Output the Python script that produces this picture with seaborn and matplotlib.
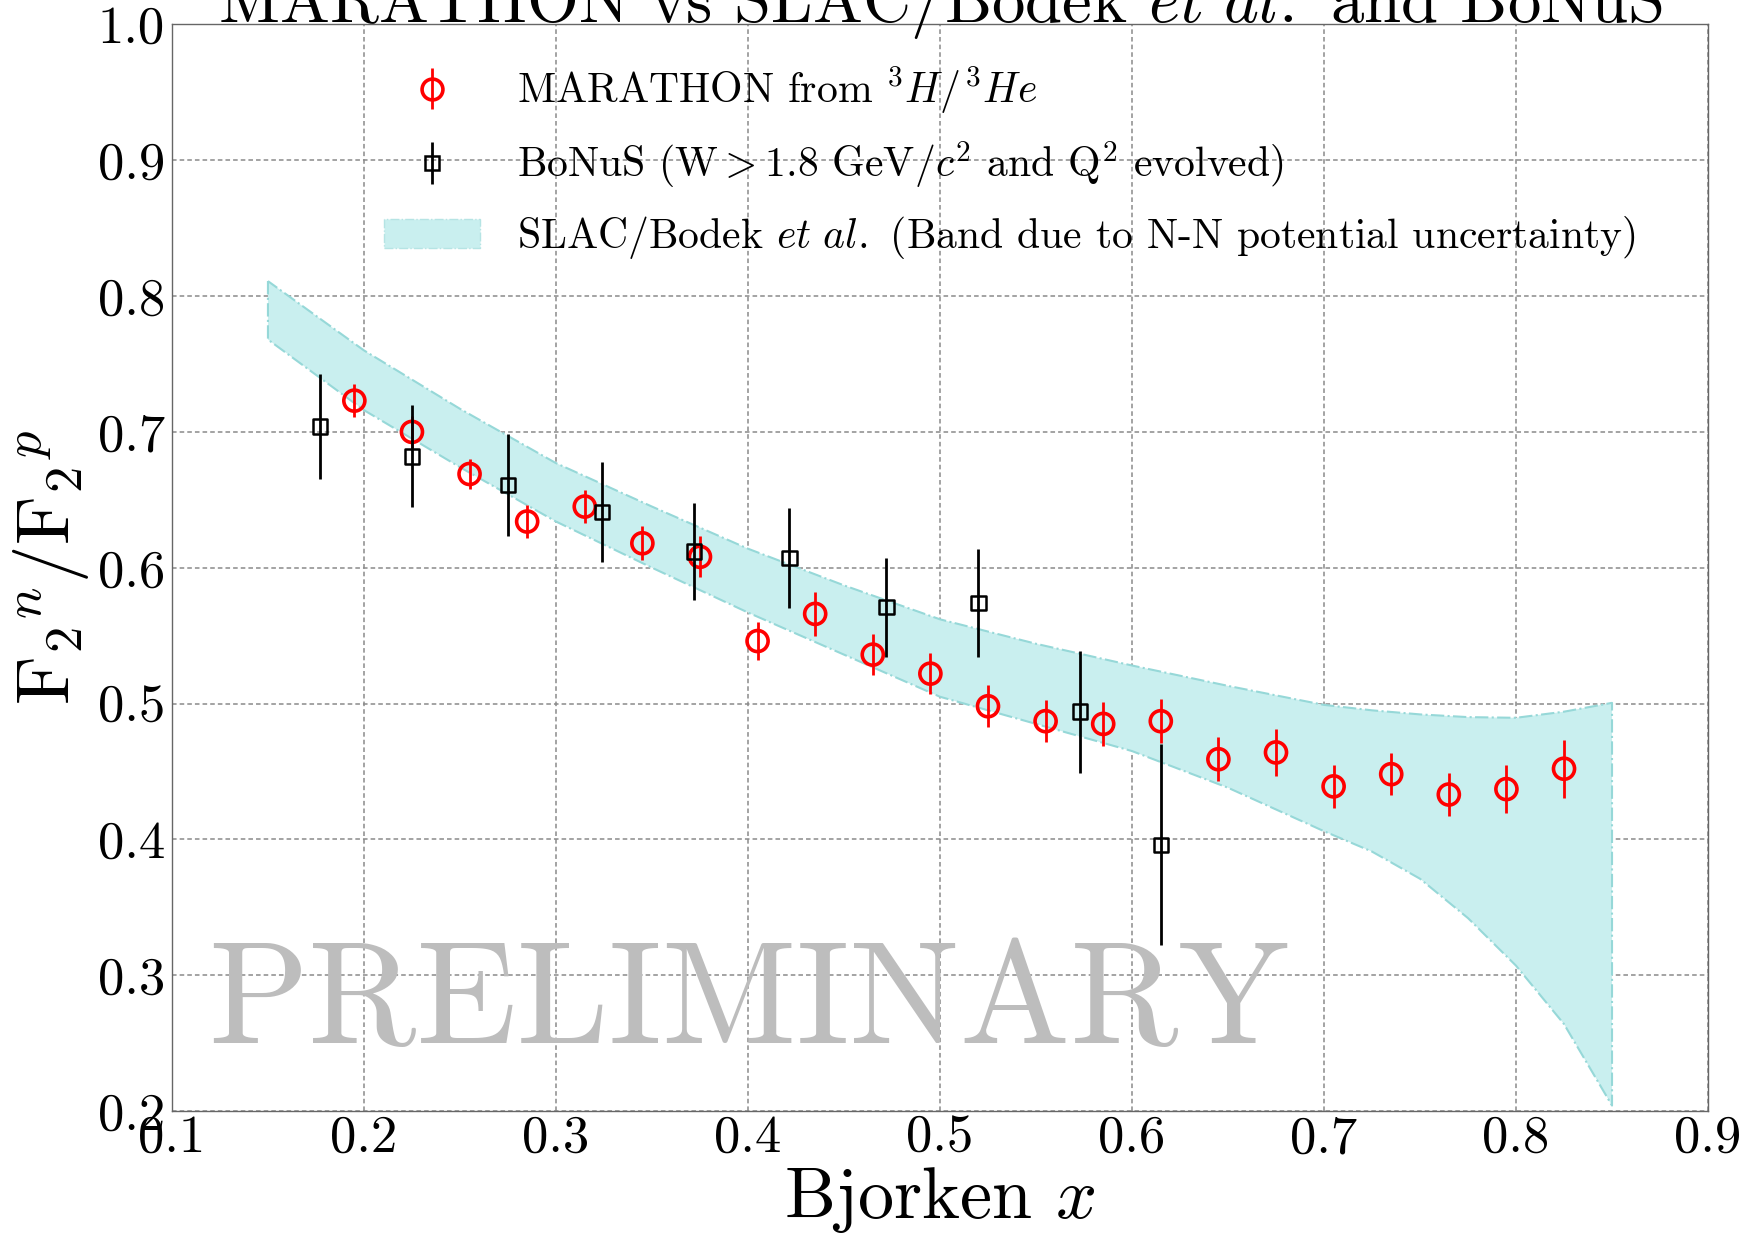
import matplotlib
matplotlib.use("Agg")
import matplotlib.pyplot as plt
import seaborn as sns
import pandas as pd
from matplotlib.patches import Patch
from matplotlib.lines import Line2D
from matplotlib.legend_handler import HandlerTuple

# MARATHON F2n/F2p extracted from 3H/3He
marathon_x = [0.195, 0.225, 0.255, 0.285, 0.315, 0.345, 0.375, 0.405, 0.435, 0.465, 0.495,
              0.525, 0.555, 0.585, 0.615, 0.645, 0.675, 0.705, 0.735, 0.765, 0.795, 0.825]
marathon_y = [0.723, 0.700, 0.669, 0.634, 0.645, 0.618, 0.608, 0.546, 0.566, 0.536, 0.522,
              0.498, 0.487, 0.485, 0.487, 0.459, 0.464, 0.439, 0.448, 0.433, 0.437, 0.452]
marathon_err = [0.012, 0.012, 0.011, 0.012, 0.012, 0.0125, 0.015, 0.014, 0.016, 0.015, 0.015,
                0.0155, 0.0155, 0.016, 0.016, 0.016, 0.0175, 0.016, 0.0155, 0.0155, 0.0175, 0.0215]

# BoNuS (W > 1.8 GeV, Q^2 evolved)
bonus_x = [0.177, 0.225, 0.275, 0.324, 0.372, 0.4215, 0.472, 0.520, 0.573, 0.615]
bonus_y = [0.704, 0.682, 0.661, 0.641, 0.612, 0.607, 0.571, 0.574, 0.494, 0.396]
bonus_err = [0.0386, 0.0376, 0.0373, 0.037, 0.036, 0.037, 0.0365, 0.040, 0.045, 0.074]

# SLAC/Bodek et al. band (N-N potential uncertainty)
band_x = [0.15, 0.20, 0.25, 0.30, 0.35, 0.40, 0.45, 0.50, 0.55, 0.60, 0.65, 0.70,
          0.725, 0.75, 0.775, 0.80, 0.825, 0.85]
band_hi = [0.811, 0.760, 0.717, 0.677, 0.645, 0.614, 0.587, 0.562, 0.544, 0.528, 0.513, 0.499,
           0.495, 0.492, 0.490, 0.4895, 0.494, 0.5005]
band_lo = [0.768, 0.716, 0.674, 0.634, 0.600, 0.567, 0.536, 0.505, 0.485, 0.465, 0.438, 0.406,
           0.391, 0.371, 0.342, 0.307, 0.264, 0.204]

x_ticks = [0.1, 0.2, 0.3, 0.4, 0.5, 0.6, 0.7, 0.8, 0.9]
y_ticks = [0.2, 0.3, 0.4, 0.5, 0.6, 0.7, 0.8, 0.9, 1.0]

sns.set_theme(style="whitegrid")
plt.rcParams["font.family"] = "serif"
plt.rcParams["font.serif"] = ["cmr10"]
plt.rcParams["mathtext.fontset"] = "cm"
plt.rcParams["axes.formatter.use_mathtext"] = True
plt.rcParams["axes.unicode_minus"] = False
plt.rcParams["text.color"] = "black"
plt.rcParams["axes.labelcolor"] = "black"

df_m = pd.DataFrame({"x": marathon_x, "y": marathon_y, "err": marathon_err})
df_b = pd.DataFrame({"x": bonus_x, "y": bonus_y, "err": bonus_err})

fig = plt.figure(figsize=(17.42, 12.39), dpi=100)
ax = fig.add_axes([0.0987, 0.1033, 0.8818, 0.8770])

# watermark
ax.text(0.119, 0.25, "PRELIMINARY", fontsize=106, color="#bdbdbd", ha="left",
        va="baseline", zorder=1)

# theory band
band_face = "#c9efef"
ax.fill_between(band_x, band_lo, band_hi, facecolor=band_face, edgecolor="#96d8d8",
                linestyle="-.", linewidth=1.5, zorder=2)

# MARATHON
red_bars = ax.errorbar(df_m["x"], df_m["y"], yerr=df_m["err"], fmt="none",
                       ecolor="#ff0000", elinewidth=2.0, capsize=0, zorder=4)
sns.scatterplot(data=df_m, x="x", y="y", ax=ax, marker="o", s=230,
                facecolor="none", edgecolor="#ff0000", linewidth=2.6, zorder=5,
                legend=False)

# BoNuS
blk_bars = ax.errorbar(df_b["x"], df_b["y"], yerr=df_b["err"], fmt="none",
                       ecolor="black", elinewidth=2.0, capsize=0, zorder=6)
sns.scatterplot(data=df_b, x="x", y="y", ax=ax, marker="s", s=110,
                facecolor="none", edgecolor="black", linewidth=1.8, zorder=7,
                legend=False)

ax.set_xlim(0.1, 0.9)
ax.set_ylim(0.2, 1.0)
ax.set_xticks(x_ticks)
ax.set_yticks(y_ticks)
ax.set_xticklabels([f"{v:.1f}" for v in x_ticks])
ax.set_yticklabels([f"{v:.1f}" for v in y_ticks])
ax.tick_params(axis="both", labelsize=38, length=0, colors="black")
ax.tick_params(axis="x", pad=3)
ax.tick_params(axis="y", pad=5)

ax.grid(True, color="#8a8a8a", linestyle=(0, (3, 2)), linewidth=1.1)
ax.set_axisbelow(True)
for sp in ax.spines.values():
    sp.set_color("#666666")
    sp.set_linewidth(1.0)

ax.set_xlabel("Bjorken $x$", fontsize=52, labelpad=2)
ax.set_ylabel(r"F$_2{}^n$/F$_2{}^p$", fontsize=54)
ax.yaxis.set_label_coords(-0.053, 0.5)
ax.set_title(r"MARATHON vs SLAC/Bodek $et\ al.$ and BoNuS", fontsize=48, pad=2)

red_mk = Line2D([], [], marker="o", color="none", markerfacecolor="none",
                markeredgecolor="#ff0000", markersize=15, markeredgewidth=2.6)
blk_mk = Line2D([], [], marker="s", color="none", markerfacecolor="none",
                markeredgecolor="black", markersize=10, markeredgewidth=1.8)
band_patch = Patch(facecolor=band_face, edgecolor="#b5e4e4", linestyle="-.")

handles = [(red_bars, red_mk), (blk_bars, blk_mk), band_patch]
labels = [r"MARATHON from $^3H/^3He$",
          r"BoNuS (W$>$1.8 GeV/$c^2$ and Q$^2$ evolved)",
          r"SLAC/Bodek $et\ al.$ (Band due to N-N potential uncertainty)"]
ax.legend(handles, labels, loc="upper left", bbox_to_anchor=(0.127, 0.978),
          frameon=False, fontsize=30, handlelength=2.3, handletextpad=0.9,
          labelspacing=0.56, borderaxespad=0,
          handler_map={tuple: HandlerTuple(ndivide=1, pad=0)})

fig.savefig("out.png", dpi=100)
